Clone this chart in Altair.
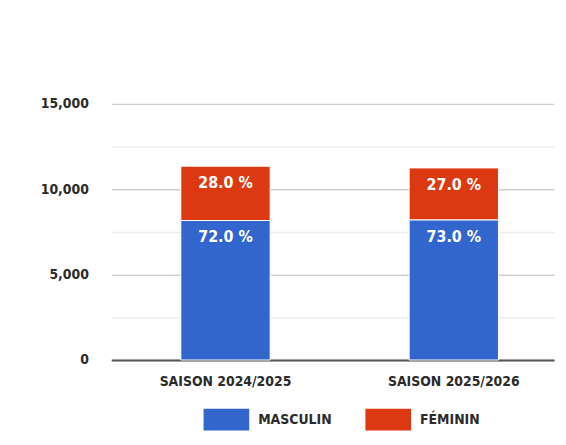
import altair as alt
import pandas as pd

seasons = ["SAISON 2024/2025", "SAISON 2025/2026"]
genders = ["MASCULIN", "FÉMININ"]
masculin = [8170, 8210]
feminin = [3180, 3040]
pct_masculin = [72.0, 73.0]
pct_feminin = [28.0, 27.0]
y_ticks = [0, 2500, 5000, 7500, 10000, 12500, 15000]
colors = ["#3366cc", "#dc3912"]

rows = []
for i, s in enumerate(seasons):
    rows.append({"season": s, "gender": genders[0], "value": masculin[i],
                 "top": masculin[i], "label": f"{pct_masculin[i]:.1f} %", "ord": 0})
    rows.append({"season": s, "gender": genders[1], "value": feminin[i],
                 "top": masculin[i] + feminin[i], "label": f"{pct_feminin[i]:.1f} %", "ord": 1})
df = pd.DataFrame(rows)

FONT = "DejaVu Sans Condensed, sans-serif"

x = alt.X("season:N", title=None, sort=seasons,
          scale=alt.Scale(paddingInner=0.6087, paddingOuter=0.274, align=0.556),
          axis=alt.Axis(labelAngle=0, labelFont=FONT, labelFontSize=14, labelFontWeight="bold",
                        labelColor="#2b2b2b", ticks=False, labelPadding=15,
                        domainColor="#555555", domainWidth=2, grid=False))

bars = alt.Chart(df).mark_bar(stroke="white", strokeWidth=1).encode(
    x=x,
    y=alt.Y("value:Q", stack="zero", title=None,
            scale=alt.Scale(domain=[0, 15000], nice=False),
            axis=alt.Axis(values=y_ticks,
                          labelExpr="datum.value % 5000 === 0 ? format(datum.value, ',') : ''",
                          labelFont=FONT, labelFontSize=14, labelFontWeight="bold",
                          labelColor="#2b2b2b", labelPadding=23, ticks=False, domain=False,
                          gridColor={"condition": {"test": "datum.value % 5000 === 0", "value": "#cfcfcf"},
                                     "value": "#ececec"},
                          gridWidth=1.5)),
    color=alt.Color("gender:N", sort=genders,
                    scale=alt.Scale(domain=genders, range=colors),
                    legend=alt.Legend(title=None, orient="none", direction="horizontal",
                                      legendX=93, legendY=295,
                                      symbolType="M-1,-0.478H1V0.478H-1Z", symbolSize=2116,
                                      symbolStrokeWidth=0, symbolOpacity=1,
                                      labelFont=FONT, labelFontSize=14, labelFontWeight="bold",
                                      labelColor="#2b2b2b", labelOffset=9, columnPadding=33)),
    order=alt.Order("ord:Q"),
)

labels = alt.Chart(df).mark_text(color="white", font=FONT, fontSize=16, fontWeight="bold",
                                 baseline="middle", dy=17).encode(
    x=alt.X("season:N", sort=seasons),
    y=alt.Y("top:Q"),
    text="label:N",
)

chart = alt.layer(bars, labels).properties(
    width=446, height=258,
    autosize=alt.AutoSizeParams(type="none"),
    padding={"left": 104, "top": 95, "right": 4, "bottom": 80},
    background="white",
).configure_view(stroke=None)

chart.save("out.html", embed_options={"renderer": "svg", "actions": False})
